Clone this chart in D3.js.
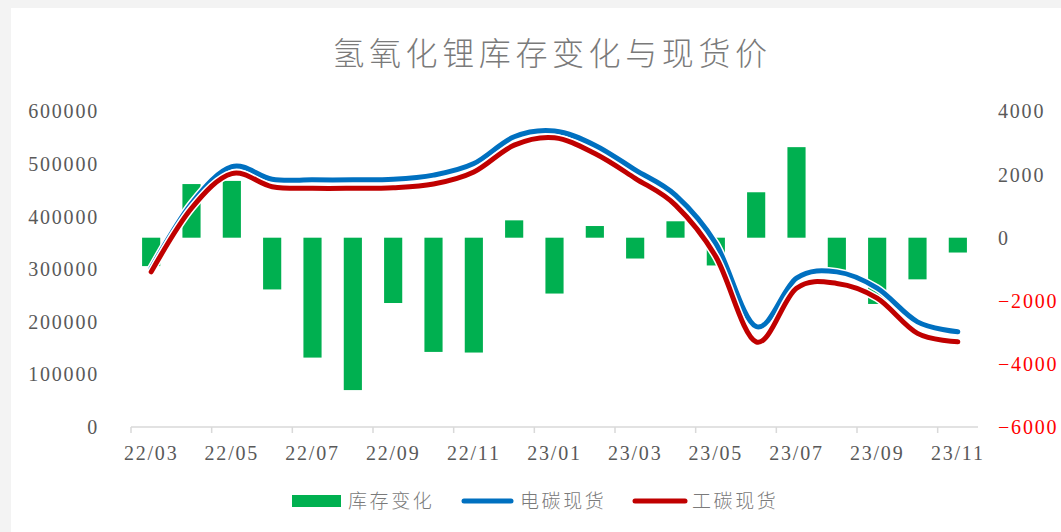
<!DOCTYPE html>
<meta charset="utf-8">
<style>
    body { margin: 0; background: #f3f3f3; }
    .num { font-family: "Liberation Serif", serif; font-size: 20px; fill: #595959; letter-spacing: 1.8px; }
    .cjk { font-family: "Noto Sans CJK SC", sans-serif; font-weight: 300; fill: #7a7a7a; }
</style>
<svg width="1061" height="532"></svg>
<script src="https://cdn.jsdelivr.net/npm/d3@7"></script>
<script>

    // months on the category axis
    var months = ["22/03", "22/04", "22/05", "22/06", "22/07", "22/08", "22/09", "22/10", "22/11", "22/12",
        "23/01", "23/02", "23/03", "23/04", "23/05", "23/06", "23/07", "23/08", "23/09", "23/10", "23/11"];

    // 库存变化 (right axis)
    var stockChange = [-900, 1700, 1800, -1640, -3800, -4830, -2070, -3620, -3640, 550,
        -1770, 370, -660, 520, -880, 1440, 2870, -1100, -2100, -1320, -470];

    // 电碳现货 (left axis)
    var batteryPrice = [302000, 425000, 495000, 471000, 470000, 470000, 471000, 479000, 501000, 552000,
        563000, 536000, 489000, 441000, 349000, 191000, 283000, 295000, 264000, 200000, 181000];

    // 工碳现货 (left axis)
    var industrialPrice = [295000, 416000, 482000, 457000, 454000, 454000, 455000, 462000, 485000, 536000,
        550000, 520000, 473000, 422000, 324000, 162000, 264000, 273000, 245000, 178000, 162000];

    var leftTicks = [0, 100000, 200000, 300000, 400000, 500000, 600000];
    var rightTicks = [-6000, -4000, -2000, 0, 2000, 4000];

    var svg = d3.select("svg");

    // white chart area, the grey band is the frame of the picture
    svg.append("rect").attr("x", 11).attr("y", 8).attr("width", 1050).attr("height", 524).attr("fill", "#fff");

    var x = d3.scaleBand().domain(months).range([131, 978]).paddingInner(0.55).paddingOuter(0.275);
    var yL = d3.scaleLinear().domain([0, 600000]).range([427, 111.5]);
    var yR = d3.scaleLinear().domain([-6000, 4000]).range([427, 111.5]);
    var gap = (x.step() - x.bandwidth()) / 2;

    //title
    svg.append("text").attr("class", "cjk")
        .attr("x", 552).attr("y", 65)
        .attr("text-anchor", "middle")
        .style("font-size", "32px").style("letter-spacing", "4.6px")
        .text("氢氧化锂库存变化与现货价");

    // left axis
    var gl = svg.append("g").attr("transform", "translate(105,0)")
        .call(d3.axisLeft(yL).tickValues(leftTicks).tickSize(0).tickPadding(6).tickFormat(d3.format("d")));
    gl.select(".domain").remove();
    gl.selectAll("text").attr("class", "num").attr("fill", null).style("font-family", null);

    // right axis, negatives in red
    var gr = svg.append("g").attr("transform", "translate(992,0)")
        .call(d3.axisRight(yR).tickValues(rightTicks).tickSize(0).tickPadding(6)
            .tickFormat(function (d) { return d < 0 ? "\u2212" + Math.abs(d) : d; }));
    gr.select(".domain").remove();
    gr.selectAll("text").attr("class", "num").attr("fill", null).style("font-family", null)
        .style("fill", function (d) { return d < 0 ? "#ff0000" : "#595959"; });

    // category axis
    svg.append("line").attr("x1", 131).attr("x2", 978).attr("y1", 427).attr("y2", 427)
        .attr("stroke", "#d9d9d9").attr("stroke-width", 1.5);
    svg.selectAll(".xtick").data(months.filter(function (d, i) { return i % 2 === 0; }))
        .enter().append("line").attr("class", "xtick")
        .attr("x1", function (d) { return x(d) - gap; })
        .attr("x2", function (d) { return x(d) - gap; })
        .attr("y1", 427).attr("y2", 433)
        .attr("stroke", "#d9d9d9").attr("stroke-width", 1.5);
    svg.selectAll(".xlab").data(months.filter(function (d, i) { return i % 2 === 0; }))
        .enter().append("text").attr("class", "num xlab")
        .attr("x", function (d) { return x(d) + x.bandwidth() / 2; })
        .attr("y", 460)
        .attr("text-anchor", "middle")
        .text(function (d) { return d; });

    // bars
    svg.selectAll(".bar").data(stockChange).enter().append("rect").attr("class", "bar")
        .attr("x", function (d, i) { return x(months[i]); })
        .attr("width", x.bandwidth())
        .attr("y", function (d) { return yR(Math.max(0, d)); })
        .attr("height", function (d) { return Math.abs(yR(d) - yR(0)); })
        .attr("fill", "#00b050");

    // smoothed lines, white halo underneath like excel
    var line = d3.line()
        .x(function (d, i) { return x(months[i]) + x.bandwidth() / 2; })
        .y(function (d) { return yL(d); })
        .curve(d3.curveCatmullRom.alpha(0));

    [[batteryPrice, "#0070c0"], [industrialPrice, "#c00000"]].forEach(function (s) {
        svg.append("path").datum(s[0]).attr("d", line)
            .attr("fill", "none").attr("stroke", "#fff").attr("stroke-width", 8)
            .attr("stroke-linecap", "round").attr("stroke-linejoin", "round");
        svg.append("path").datum(s[0]).attr("d", line)
            .attr("fill", "none").attr("stroke", s[1]).attr("stroke-width", 5)
            .attr("stroke-linecap", "round").attr("stroke-linejoin", "round");
    });

    // legend
    var lg = svg.append("g");
    lg.append("rect").attr("x", 292).attr("y", 495).attr("width", 49).attr("height", 12).attr("fill", "#00b050");
    lg.append("line").attr("x1", 464).attr("x2", 511).attr("y1", 501).attr("y2", 501)
        .attr("stroke", "#0070c0").attr("stroke-width", 5).attr("stroke-linecap", "round");
    lg.append("line").attr("x1", 635).attr("x2", 685).attr("y1", 501).attr("y2", 501)
        .attr("stroke", "#c00000").attr("stroke-width", 5).attr("stroke-linecap", "round");
    [["库存变化", 348], ["电碳现货", 520], ["工碳现货", 692]].forEach(function (t) {
        lg.append("text").attr("class", "cjk")
            .attr("x", t[1]).attr("y", 508)
            .style("font-size", "19px").style("letter-spacing", "2.6px")
            .text(t[0]);
    });

</script>
